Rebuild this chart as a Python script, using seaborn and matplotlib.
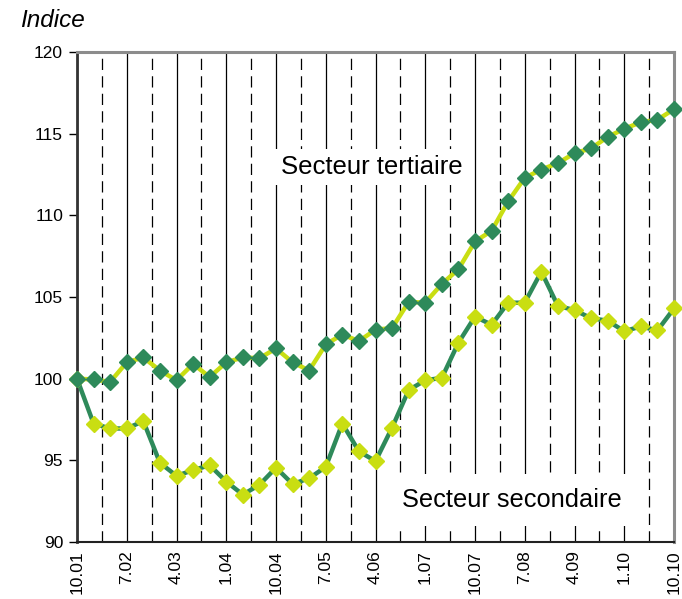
import matplotlib
matplotlib.use("Agg")
import matplotlib.pyplot as plt
import seaborn as sns
import pandas as pd
import numpy as np

# ---- data ----
tick_labels = ["10.01", "7.02", "4.03", "1.04", "10.04", "7.05", "4.06",
               "1.07", "10.07", "7.08", "4.09", "1.10", "10.10"]
tertiaire = [100.0, 99.95, 99.8, 101.0, 101.3, 100.5, 99.9, 100.9, 100.1, 101.0,
             101.3, 101.25, 101.85, 101.0, 100.5, 102.1, 102.7, 102.3, 103.0, 103.1,
             104.7, 104.65, 105.8, 106.7, 108.4, 109.05, 110.85, 112.3, 112.8, 113.2,
             113.8, 114.1, 114.8, 115.3, 115.7, 115.85, 116.5]
secondaire = [100.0, 97.25, 96.95, 96.95, 97.4, 94.85, 94.05, 94.4, 94.7, 93.7,
              92.9, 93.5, 94.55, 93.55, 93.9, 94.6, 97.25, 95.55, 94.95, 97.0,
              99.3, 99.9, 100.05, 102.2, 103.8, 103.3, 104.65, 104.65, 106.55, 104.45,
              104.2, 103.7, 103.55, 102.9, 103.2, 102.95, 104.3]
label_tert = "Secteur tertiaire"
label_sec = "Secteur secondaire"
y_title = "Indice"

x = np.arange(len(tertiaire))
df = pd.DataFrame({"x": x, "tert": tertiaire, "sec": secondaire})

DARK = "#2E8A5A"
LIME = "#C9DE12"

sns.set_theme(style="white")
plt.rcParams["font.family"] = ["Liberation Sans", "DejaVu Sans"]

fig = plt.figure(figsize=(6.82, 5.99), dpi=100)
ax = fig.add_axes([77 / 682, 1 - 542 / 599, (674 - 77) / 682, (542 - 52) / 599])

# secondary first, tertiary on top
sns.lineplot(data=df, x="x", y="sec", ax=ax, color=DARK, linewidth=3.2,
             marker="D", markersize=7.8, markerfacecolor=LIME, markeredgecolor=LIME,
             markeredgewidth=1, clip_on=False, zorder=5)
sns.lineplot(data=df, x="x", y="tert", ax=ax, color=LIME, linewidth=3.2,
             marker="D", markersize=7.8, markerfacecolor=DARK, markeredgecolor=DARK,
             markeredgewidth=1, clip_on=False, zorder=6)

ax.set_xlim(0, len(x) - 1)
ax.set_ylim(90, 120)
ax.set_xlabel("")
ax.set_ylabel("")

major = np.arange(0, len(x), 3)
ax.set_xticks(major)
ax.set_xticklabels(tick_labels, rotation=90, fontsize=12.5)
ax.set_xticks(major[:-1] + 1.5, minor=True)
ax.set_yticks(np.arange(90, 121, 5))
ax.set_yticklabels([str(v) for v in range(90, 121, 5)], fontsize=12.5)

ax.grid(False)
ax.grid(which="major", axis="x", color="black", linewidth=0.9, zorder=1)
ax.grid(which="minor", axis="x", color="black", linewidth=0.9,
        linestyle=(0, (9, 5)), zorder=1)
ax.set_axisbelow(True)

ax.tick_params(axis="x", which="major", direction="inout", length=8, width=1,
               color="black", pad=2, labelcolor="black")
ax.tick_params(axis="x", which="minor", length=0)
ax.tick_params(axis="y", which="major", direction="out", length=6, width=1,
               color="black", pad=4, left=True, labelcolor="black")

for side in ["top", "right"]:
    ax.spines[side].set_color("#8c8c8c")
    ax.spines[side].set_linewidth(2.2)
ax.spines["left"].set_color("#333333")
ax.spines["left"].set_linewidth(2.0)
ax.spines["bottom"].set_color("#222222")
ax.spines["bottom"].set_linewidth(1.5)

ax.text(371.5 / 682, 1 - 167 / 599, label_tert, transform=fig.transFigure,
        ha="center", va="center", fontsize=18.5, color="black", zorder=3,
        bbox=dict(facecolor="white", edgecolor="none", boxstyle="square,pad=0.25"))
ax.text(512 / 682, 1 - 500 / 599, label_sec, transform=fig.transFigure,
        ha="center", va="center", fontsize=18.3, color="black", zorder=3,
        bbox=dict(facecolor="white", edgecolor="none", boxstyle="square,pad=0.55"))

fig.text(20 / 682, 1 - 27 / 599, y_title, ha="left", va="baseline",
         fontsize=17.5, style="italic", color="black")

fig.savefig("out.png", dpi=100)
